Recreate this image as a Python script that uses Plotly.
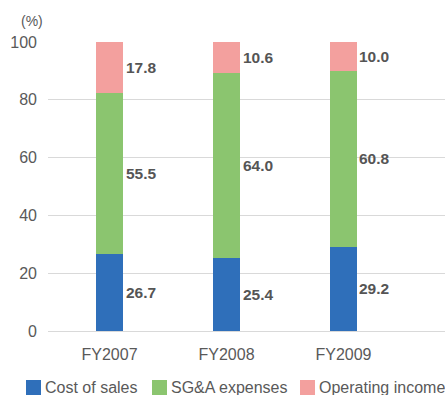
import plotly.graph_objects as go

# Cost structure as a share of net sales (%)
categories = ["FY2007", "FY2008", "FY2009"]
cost_of_sales = [26.7, 25.4, 29.2]
sga_expenses = [55.5, 64.0, 60.8]
operating_income = [17.8, 10.6, 10.0]
y_ticks = [0, 20, 40, 60, 80, 100]

series = [
    ("Cost of sales", cost_of_sales, "#2f6fba"),
    ("SG&A expenses", sga_expenses, "#8bc56f"),
    ("Operating income", operating_income, "#f3a09e"),
]

FONT = "Liberation Sans, Arial, Helvetica, sans-serif"
W, H = 445, 395
ML, MR, MT, MB = 48, 0, 42, 64
PW, PH = W - ML - MR, H - MT - MB


def px_x(p):
    return (p - ML) / PW


def px_y(p):
    return (H - MB - p) / PH


fig = go.Figure()
for name, vals, color in series:
    fig.add_trace(go.Bar(
        x=categories, y=vals, name=name,
        marker=dict(color=color, line=dict(width=0)),
        width=0.231, showlegend=False,
    ))

# value labels to the right of each stacked segment
annotations = []
base = [0.0] * len(categories)
for name, vals, color in series:
    for i, (cat, v) in enumerate(zip(categories, vals)):
        annotations.append(dict(
            x=cat, y=base[i] + v / 2, xref="x", yref="y",
            text=f"<b>{v:.1f}</b>", showarrow=False,
            xanchor="left", yanchor="middle", xshift=14,
            font=dict(family=FONT, size=15.5, color="#555555"),
        ))
        base[i] += v

annotations.append(dict(
    x=0.0, y=1.0, xref="paper", yref="paper",
    text="(%)", showarrow=False, xanchor="right", yanchor="middle",
    xshift=-3, yshift=21,
    font=dict(family=FONT, size=14, color="#595959"),
))

# legend row along the bottom edge
shapes = []
legend_left = [26, 152, 300]
for (name, vals, color), lx in zip(series, legend_left):
    shapes.append(dict(
        type="rect", xref="paper", yref="paper",
        x0=px_x(lx), x1=px_x(lx + 15), y0=px_y(395), y1=px_y(380),
        fillcolor=color, line=dict(width=0),
    ))
    annotations.append(dict(
        x=px_x(lx + 17), y=px_y(387), xref="paper", yref="paper",
        text=name, showarrow=False, xanchor="left", yanchor="middle",
        font=dict(family=FONT, size=16, color="#595959"),
    ))

fig.update_layout(
    barmode="stack",
    width=W, height=H,
    margin=dict(l=ML, r=MR, t=MT, b=MB, autoexpand=False),
    paper_bgcolor="white", plot_bgcolor="white",
    font=dict(family=FONT, size=16, color="#595959"),
    annotations=annotations,
    shapes=shapes,
    showlegend=False,
    xaxis=dict(
        range=[-0.526, 2.868], showgrid=False, zeroline=False,
        showline=False, ticks="", ticklabelstandoff=12,
        tickfont=dict(size=16, color="#595959"),
    ),
    yaxis=dict(
        range=[0, 100], tickvals=y_ticks, showgrid=True,
        gridcolor="#d9d9d9", gridwidth=1, zeroline=True,
        zerolinecolor="#d9d9d9", zerolinewidth=1,
        ticks="", showline=False, ticklabelstandoff=10,
        tickfont=dict(size=16, color="#595959"),
    ),
    bargap=0,
)

fig.write_html("out.html")
